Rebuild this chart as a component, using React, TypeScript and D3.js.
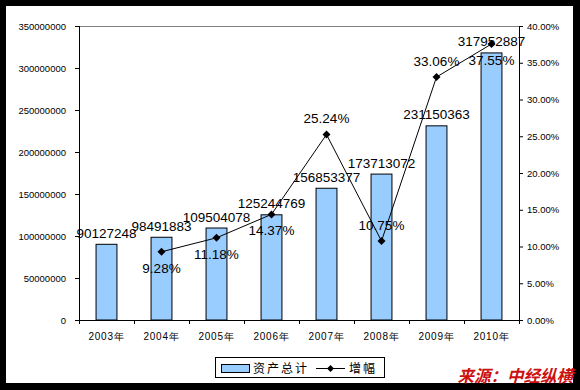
import React from "react";
import * as d3 from "d3";

const categories = ["2003年", "2004年", "2005年", "2006年", "2007年", "2008年", "2009年", "2010年"];
const assets = [90127248, 98491883, 109504078, 125244769, 156853377, 173713072, 231150363, 317952887];
const growthYears = ["2004年", "2005年", "2006年", "2007年", "2008年", "2009年", "2010年"];
const growth = [9.28, 11.18, 14.37, 25.24, 10.75, 33.06, 37.55];
const growthLabelSide = ["below", "below", "below", "above", "above", "above", "below"];
const leftTicks = [0, 50000000, 100000000, 150000000, 200000000, 250000000, 300000000, 350000000];
const rightTicks = [0, 5, 10, 15, 20, 25, 30, 35, 40];
const seriesNames = ["资产总计", "增幅"];
const sourceText = "来源：中经纵横";

const W = 580, H = 390;
const m = { left: 79, right: 519, top: 26, bottom: 320 };

export default function App() {
  const x = d3.scaleBand<string>().domain(categories).range([m.left, m.right]).padding(0);
  const yL = d3.scaleLinear().domain([0, 350000000]).range([m.bottom, m.top]);
  const yR = d3.scaleLinear().domain([0, 40]).range([m.bottom, m.top]);
  const bw = x.bandwidth() * 0.38;
  const cx = (c: string) => (x(c) as number) + x.bandwidth() / 2;
  const line = d3.line<number>().x((_, i) => cx(growthYears[i])).y((d) => yR(d));
  const font = "Arial, 'Liberation Sans', sans-serif";
  const cjk = "'Noto Sans CJK SC', sans-serif";
  const diamond = (px: number, py: number, s = 4) =>
    `M${px},${py - s}L${px + s},${py}L${px},${py + s}L${px - s},${py}Z`;

  return (
    <svg width={W} height={H} style={{ position: "absolute", left: 0, top: 0 }}>
      <rect x={0} y={0} width={W} height={H} fill="#000" />
      <rect x={6} y={6} width={567} height={377} fill="#fff" />
      {/* plot top border */}
      <line x1={m.left} x2={m.right} y1={m.top + 0.5} y2={m.top + 0.5} stroke="#808080" />
      {/* bars */}
      {categories.map((c, i) => (
        <rect key={c} x={cx(c) - bw / 2} y={yL(assets[i])} width={bw} height={m.bottom - yL(assets[i])}
          fill="#99CCFF" stroke="#000" strokeWidth={1} />
      ))}
      {/* axes */}
      <line x1={m.left + 0.5} x2={m.left + 0.5} y1={m.top} y2={m.bottom} stroke="#000" />
      <line x1={m.right + 0.5} x2={m.right + 0.5} y1={m.top} y2={m.bottom} stroke="#000" />
      <line x1={m.left} x2={m.right} y1={m.bottom + 0.5} y2={m.bottom + 0.5} stroke="#000" />
      {leftTicks.map((t) => (
        <g key={"l" + t}>
          <line x1={m.left - 4} x2={m.left} y1={yL(t) + 0.5} y2={yL(t) + 0.5} stroke="#000" />
          <text x={66} y={yL(t) + 3.5} textAnchor="end" fontFamily={font} fontSize={9.5} fill="#000">{t}</text>
        </g>
      ))}
      {rightTicks.map((t) => (
        <g key={"r" + t}>
          <line x1={m.right} x2={m.right + 4} y1={yR(t) + 0.5} y2={yR(t) + 0.5} stroke="#000" />
          <text x={527} y={yR(t) + 3.5} textAnchor="start" fontFamily={font} fontSize={9.5} fill="#000">{t.toFixed(2) + "%"}</text>
        </g>
      ))}
      {d3.range(categories.length + 1).map((i) => (
        <line key={"xt" + i} x1={m.left + i * x.bandwidth() + 0.5} x2={m.left + i * x.bandwidth() + 0.5}
          y1={m.bottom} y2={m.bottom + 4} stroke="#000" />
      ))}
      {categories.map((c) => (
        <text key={"xl" + c} x={cx(c)} y={340} textAnchor="middle" fontFamily={font} fontSize={10}
          letterSpacing={0.8} fill="#000">{c}</text>
      ))}
      {/* line */}
      <path d={line(growth) as string} fill="none" stroke="#000" strokeWidth={1} />
      {growth.map((g, i) => (
        <path key={"d" + i} d={diamond(cx(growthYears[i]), yR(g))} fill="#000" />
      ))}
      {/* bar labels */}
      {categories.map((c, i) => (
        <text key={"bl" + c} x={cx(c)} y={yL(assets[i]) - 6.5} textAnchor="middle" fontFamily={font}
          fontSize={13.5} fill="#000">{assets[i]}</text>
      ))}
      {/* growth labels */}
      {growth.map((g, i) => (
        <text key={"gl" + i} x={cx(growthYears[i])}
          y={growthLabelSide[i] === "below" ? yR(g) + 21 : yR(g) - 11}
          textAnchor="middle" fontFamily={font} fontSize={13.5} fill="#000">{g.toFixed(2) + "%"}</text>
      ))}
      {/* legend */}
      <rect x={215.5} y={357.5} width={169} height={20} fill="#fff" stroke="#000" />
      <rect x={221.5} y={364.5} width={28} height={8} fill="#99CCFF" stroke="#000" />
      <text x={253} y={373} fontFamily={cjk} fontSize={12} letterSpacing={2} fill="#000">{seriesNames[0]}</text>
      <line x1={316} x2={345} y1={368.5} y2={368.5} stroke="#000" />
      <path d={diamond(330.5, 368.5, 3.5)} fill="#000" />
      <text x={349} y={373} fontFamily={cjk} fontSize={12} letterSpacing={2} fill="#000">{seriesNames[1]}</text>
      {/* source */}
      <text x={573} y={382} textAnchor="end" fontFamily={cjk} fontSize={16.5} fontWeight="bold"
        fontStyle="italic" fill="#CC1111">{sourceText}</text>
    </svg>
  );
}
